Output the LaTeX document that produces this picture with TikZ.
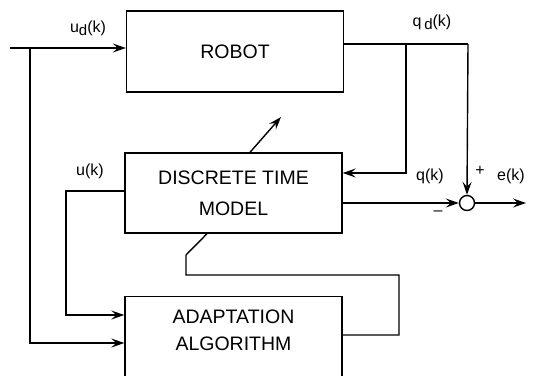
\documentclass[tikz,border=0pt]{standalone}
\usepackage{fontspec}
\setmainfont{Liberation Sans}
\usetikzlibrary{arrows.meta}
\newcommand{\lowd}{\raisebox{-3pt}{\fontsize{15}{16}\selectfont d}}
\tikzset{
	block/.style={draw, line width=1.4pt, minimum width=217pt, inner sep=0pt, align=center, font=\fontsize{19.5}{27}\selectfont},
	sig/.style={font=\fontsize{16}{18}\selectfont, inner sep=1pt},
	sumnode/.style={draw, circle, line width=1.4pt, minimum size=15pt, inner sep=0pt}
}

\begin{document}
\begin{tikzpicture}[x=1pt, y=-1pt, line width=1.4pt, >={Stealth[length=13pt, width=9pt, inset=5pt]}]

	\useasboundingbox (0,0) rectangle (535,375);
	\clip (0,0) rectangle (535,375);

	% blocks
	\node[block, minimum height=81pt] (robot) at (235,51.5) {ROBOT};
	\node[block, minimum height=80pt] (dtm) at (233.5,193) {DISCRETE TIME\\[4pt]MODEL};
	\node[block, minimum height=110pt, anchor=north] (adapt) at (233.5,296) {};
	\node[align=center, font=\fontsize{19.5}{27}\selectfont] (adapttext) at (233.5,330) {ADAPTATION\\ALGORITHM};

	\node[sumnode] (sum) at (467,203) {};

	% free ends and corners
	\coordinate (in) at (10,48);
	\coordinate (split) at (30,48);
	\coordinate (qdtap) at (406,44);
	\coordinate (qdcorner) at (468,44);
	\coordinate (eout) at (526,203);
	\coordinate (ucorner) at (66,191);
	\coordinate (fbcorner) at (399,275);
	\coordinate (fbleft) at (186,275);
	\coordinate (fbknee) at (186,255);
	\coordinate (tune) at (281,117);

	% input u_d(k)
	\draw[->] (in) -- (in -| robot.west);
	\draw[->] (split) |- (adapt.west |- 0,343);

	% robot output q_d(k)
	\draw (qdtap -| robot.east) -- (qdcorner);
	\draw[->] (qdcorner) -- (sum.north);
	\draw[->] (qdtap) |- (dtm.east |- 0,173);

	% model output q(k) and error
	\draw[->] (dtm.east |- sum) -- (sum.west);
	\draw[->] (sum.east) -- (eout);

	% u(k) into adaptation
	\draw[->] (ucorner -| dtm.west) -- (ucorner) |- (adapt.west |- 0,315);

	% parameter update back to the model
	\draw (adapt.east |- 0,335) -| (fbcorner) -- (fbleft) -- (fbknee) -- (dtm.south -| 207,0);
	\draw[->] (dtm.north -| 250,0) -- (tune);

	% signal labels
	\node[sig] (udlabel) at (88,28) {u\lowd(k)};
	\node[sig] (qdlabel) at (432,22) {q\,\lowd(k)};
	\node[sig] (ulabel) at (90,171) {u(k)};
	\node[sig] (qlabel) at (430,176) {q(k)};
	\node[sig] (elabel) at (511,176) {e(k)};
	\node[sig] (plus) at (480,171) {+};
	\node[sig] (minus) at (438,213) {\textendash};

\end{tikzpicture}
\end{document}
